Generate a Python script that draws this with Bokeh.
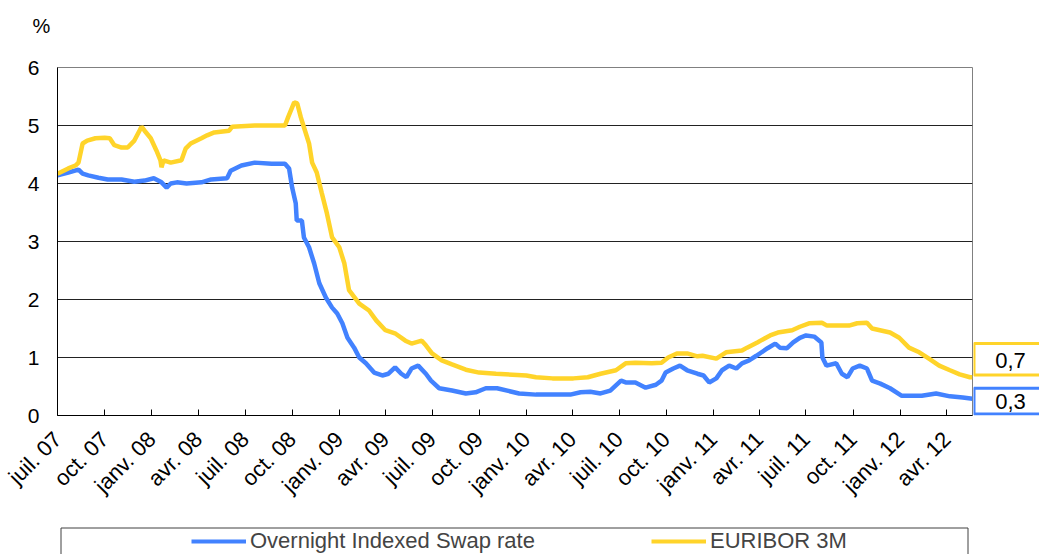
import math
import pandas as pd
from bokeh.plotting import figure
from bokeh.layouts import column, row
from bokeh.models import (FixedTicker, Legend, LegendItem, BoxAnnotation, Label, Range1d)
from bokeh.embed import file_html
from bokeh.resources import INLINE

# ---- data ----
ois_dates = ["2007-07-01", "2007-07-22", "2007-08-11", "2007-08-19", "2007-08-30", "2007-09-19",
             "2007-10-07", "2007-11-03", "2007-11-28", "2007-12-18", "2008-01-05", "2008-01-20",
             "2008-01-30", "2008-02-07", "2008-02-19", "2008-03-09", "2008-04-07", "2008-04-26",
             "2008-05-27", "2008-06-03", "2008-06-24", "2008-07-20", "2008-08-22", "2008-09-17",
             "2008-09-25", "2008-10-01", "2008-10-08", "2008-10-10", "2008-10-20", "2008-10-24",
             "2008-11-03", "2008-11-13", "2008-11-23", "2008-12-06", "2008-12-18", "2008-12-28",
             "2009-01-07", "2009-01-17", "2009-01-30", "2009-02-09", "2009-02-22", "2009-03-10",
             "2009-03-26", "2009-04-07", "2009-04-20", "2009-05-02", "2009-05-12", "2009-05-22",
             "2009-06-04", "2009-06-19", "2009-06-29", "2009-07-15", "2009-08-09", "2009-09-05",
             "2009-09-24", "2009-10-14", "2009-11-05", "2009-12-18", "2010-01-20", "2010-03-28",
             "2010-04-17", "2010-05-06", "2010-05-26", "2010-06-14", "2010-06-25", "2010-07-05",
             "2010-07-14", "2010-08-02", "2010-08-22", "2010-09-11", "2010-09-22", "2010-09-30",
             "2010-10-15", "2010-10-28", "2010-11-11", "2010-12-01", "2010-12-13", "2010-12-24",
             "2011-01-07", "2011-01-18", "2011-02-01", "2011-02-15", "2011-02-26", "2011-03-12",
             "2011-03-26", "2011-04-17", "2011-05-02", "2011-05-11", "2011-05-25", "2011-06-06",
             "2011-06-19", "2011-07-01", "2011-07-17", "2011-07-31", "2011-08-02", "2011-08-10",
             "2011-08-29", "2011-09-09", "2011-09-20", "2011-09-30", "2011-10-14", "2011-10-28",
             "2011-11-07", "2011-11-23", "2011-12-12", "2012-01-04", "2012-02-12", "2012-03-11",
             "2012-04-07", "2012-05-02", "2012-05-21"]
ois_values = [4.14, 4.19, 4.24, 4.17, 4.14, 4.10,
              4.07, 4.07, 4.03, 4.05, 4.09, 4.02,
              3.93, 4.00, 4.02, 4.00, 4.02, 4.07,
              4.09, 4.22, 4.31, 4.36, 4.34, 4.34,
              4.26, 3.93, 3.66, 3.36, 3.36, 3.07,
              2.90, 2.62, 2.28, 2.03, 1.86, 1.76,
              1.59, 1.34, 1.17, 1.00, 0.90, 0.74,
              0.69, 0.72, 0.83, 0.72, 0.66, 0.81,
              0.86, 0.72, 0.60, 0.47, 0.43, 0.38,
              0.40, 0.47, 0.47, 0.38, 0.36, 0.36,
              0.40, 0.41, 0.38, 0.43, 0.52, 0.60,
              0.57, 0.57, 0.48, 0.53, 0.60, 0.74,
              0.81, 0.86, 0.78, 0.72, 0.69, 0.57,
              0.64, 0.78, 0.86, 0.81, 0.90, 0.95,
              1.03, 1.16, 1.24, 1.17, 1.16, 1.26,
              1.34, 1.38, 1.36, 1.26, 1.00, 0.86,
              0.90, 0.72, 0.66, 0.81, 0.86, 0.81,
              0.60, 0.55, 0.47, 0.34, 0.34, 0.38,
              0.33, 0.31, 0.29]

eur_dates = ["2007-07-01", "2007-07-22", "2007-08-05", "2007-08-11", "2007-08-19", "2007-08-28",
             "2007-09-13", "2007-10-01", "2007-10-11", "2007-10-20", "2007-11-03", "2007-11-15",
             "2007-11-28", "2007-12-08", "2007-12-12", "2007-12-18", "2007-12-30", "2008-01-10",
             "2008-01-18", "2008-01-20", "2008-01-24", "2008-02-07", "2008-02-28", "2008-03-07",
             "2008-03-17", "2008-04-07", "2008-04-18", "2008-05-02", "2008-05-31", "2008-06-06",
             "2008-07-20", "2008-09-17", "2008-09-23", "2008-10-05", "2008-10-11", "2008-10-18",
             "2008-10-24", "2008-11-03", "2008-11-09", "2008-11-18", "2008-11-28", "2008-12-08",
             "2008-12-18", "2009-01-01", "2009-01-11", "2009-01-20", "2009-02-09", "2009-02-28",
             "2009-03-14", "2009-04-01", "2009-04-21", "2009-05-10", "2009-05-22", "2009-06-11",
             "2009-06-19", "2009-07-01", "2009-07-20", "2009-08-09", "2009-09-05", "2009-10-01",
             "2009-11-03", "2010-01-01", "2010-01-20", "2010-02-21", "2010-04-03", "2010-05-01",
             "2010-05-26", "2010-06-25", "2010-07-14", "2010-08-02", "2010-09-03", "2010-09-22",
             "2010-10-05", "2010-10-22", "2010-11-11", "2010-12-01", "2010-12-11", "2011-01-07",
             "2011-01-26", "2011-02-26", "2011-03-08", "2011-03-28", "2011-04-22", "2011-05-07",
             "2011-06-04", "2011-06-19", "2011-07-07", "2011-08-01", "2011-08-11", "2011-09-23",
             "2011-10-09", "2011-10-28", "2011-11-07", "2011-12-12", "2011-12-30", "2012-01-18",
             "2012-02-07", "2012-02-26", "2012-03-17", "2012-04-07", "2012-04-26", "2012-05-16",
             "2012-05-21"]
eur_values = [4.17, 4.26, 4.31, 4.36, 4.69, 4.74,
              4.78, 4.79, 4.78, 4.66, 4.62, 4.62,
              4.74, 4.91, 4.98, 4.91, 4.78, 4.57,
              4.40, 4.28, 4.40, 4.36, 4.40, 4.60,
              4.69, 4.78, 4.83, 4.88, 4.91, 4.98,
              5.00, 5.00, 5.14, 5.40, 5.38, 5.14,
              4.97, 4.69, 4.36, 4.19, 3.83, 3.48,
              3.07, 2.90, 2.62, 2.16, 1.93, 1.81,
              1.64, 1.47, 1.41, 1.29, 1.24, 1.29,
              1.21, 1.07, 0.95, 0.88, 0.79, 0.74,
              0.72, 0.69, 0.66, 0.64, 0.64, 0.66,
              0.72, 0.78, 0.90, 0.91, 0.90, 0.91,
              1.00, 1.07, 1.07, 1.02, 1.03, 0.98,
              1.09, 1.12, 1.17, 1.26, 1.38, 1.43,
              1.47, 1.53, 1.59, 1.60, 1.55, 1.55,
              1.59, 1.60, 1.50, 1.43, 1.34, 1.17,
              1.09, 0.98, 0.86, 0.78, 0.71, 0.66,
              0.66]

tick_dates = ["2007-07-01", "2007-10-01", "2008-01-01", "2008-04-01", "2008-07-01", "2008-10-01",
              "2009-01-01", "2009-04-01", "2009-07-01", "2009-10-01", "2010-01-01", "2010-04-01",
              "2010-07-01", "2010-10-01", "2011-01-01", "2011-04-01", "2011-07-01", "2011-10-01",
              "2012-01-01", "2012-04-01"]
tick_labels = ["juil. 07", "oct. 07", "janv. 08", "avr. 08", "juil. 08", "oct. 08",
               "janv. 09", "avr. 09", "juil. 09", "oct. 09", "janv. 10", "avr. 10",
               "juil. 10", "oct. 10", "janv. 11", "avr. 11", "juil. 11", "oct. 11",
               "janv. 12", "avr. 12"]
y_ticks = [0, 1, 2, 3, 4, 5, 6]
series_names = ["Overnight Indexed Swap rate", "EURIBOR 3M"]
last_labels = ["0,3", "0,7"]
unit_label = "%"
x_start, x_end = "2007-07-01", "2012-05-21"
y_min, y_max = 0, 6

# ---- style / layout constants ----
FONT = "Liberation Sans"
BLUE = "#4282FF"
YELLOW = "#FFD42A"
TOTAL_W = 1039
TOP_H = 40
MAIN_W, MAIN_H = 973, 484
B_LEFT, B_RIGHT, B_TOP, B_BOTTOM = 57, 1, 27, 109
SIDE_W = TOTAL_W - MAIN_W
LEG_H = 30


def bare(fig):
    fig.grid.visible = False
    fig.outline_line_color = None
    fig.background_fill_color = "white"
    fig.border_fill_color = "white"
    return fig


# ---- top strip with the unit ----
top = bare(figure(width=TOTAL_W, height=TOP_H, output_backend="svg", toolbar_location=None,
                  x_range=Range1d(0, TOTAL_W), y_range=Range1d(0, TOP_H),
                  min_border_left=0, min_border_right=0, min_border_top=0, min_border_bottom=0,
                  x_axis_location=None, y_axis_location=None))
top.add_layout(Label(x=41, y=15, text=unit_label, text_font=FONT, text_font_size="20px",
                     text_align="center", text_baseline="middle", text_color="black"))

# ---- main chart ----
p = figure(width=MAIN_W, height=MAIN_H, x_axis_type="datetime", output_backend="svg",
           toolbar_location=None,
           x_range=Range1d(pd.Timestamp(x_start), pd.Timestamp(x_end)),
           y_range=Range1d(y_min, y_max),
           min_border_left=B_LEFT, min_border_right=B_RIGHT,
           min_border_top=B_TOP, min_border_bottom=B_BOTTOM)
p.background_fill_color = "white"
p.border_fill_color = "white"
p.outline_line_color = "#808080"
p.outline_line_width = 1

r_ois = p.line(pd.to_datetime(ois_dates), ois_values, line_color=BLUE, line_width=4.5)
r_eur = p.line(pd.to_datetime(eur_dates), eur_values, line_color=YELLOW, line_width=4.5)

tick_ms = [float(pd.Timestamp(d).value // 10**6) for d in tick_dates]
xa = p.xaxis[0]
xa.ticker = FixedTicker(ticks=tick_ms)
xa.major_label_overrides = {t: l for t, l in zip(tick_ms, tick_labels)}
xa.major_label_orientation = math.pi / 4
xa.major_label_text_font = FONT
xa.major_label_text_font_size = "22px"
xa.major_label_text_color = "black"
xa.major_tick_in = 6
xa.major_tick_out = 0
xa.minor_tick_in = 0
xa.minor_tick_out = 0
xa.axis_line_color = "black"
xa.major_tick_line_color = "black"
xa.major_label_standoff = 20

ya = p.yaxis[0]
ya.ticker = FixedTicker(ticks=y_ticks)
ya.major_label_text_font = FONT
ya.major_label_text_font_size = "21px"
ya.major_label_text_color = "black"
ya.major_tick_in = 0
ya.major_tick_out = 0
ya.minor_tick_in = 0
ya.minor_tick_out = 0
ya.axis_line_color = "black"
ya.major_label_standoff = 18

p.xgrid.visible = False
p.ygrid.ticker = FixedTicker(ticks=[1, 2, 3, 4, 5])
p.ygrid.grid_line_color = "#222222"
p.ygrid.grid_line_width = 1

# ---- right side: last-value boxes (frame aligned with the chart, same value scale) ----
side = bare(figure(width=SIDE_W, height=MAIN_H, output_backend="svg", toolbar_location=None,
                   x_range=Range1d(0, SIDE_W), y_range=Range1d(y_min, y_max),
                   min_border_left=0, min_border_right=0, min_border_top=B_TOP,
                   min_border_bottom=B_BOTTOM,
                   x_axis_location=None, y_axis_location=None))
for (btop, bbot, mid, col, lab) in [(1.24, 0.70, 0.95, YELLOW, last_labels[1]),
                                    (0.47, 0.026, 0.24, BLUE, last_labels[0])]:
    side.add_layout(BoxAnnotation(left=0.5, right=SIDE_W + 40, top=btop, bottom=bbot,
                                  fill_color="white", fill_alpha=1,
                                  line_color=col, line_alpha=1, line_width=3))
    side.add_layout(Label(x=37, y=mid, text=lab, text_font=FONT, text_font_size="22px",
                          text_align="center", text_baseline="middle", text_color="black"))

# ---- legend strip ----
leg = bare(figure(width=TOTAL_W, height=LEG_H, output_backend="svg", toolbar_location=None,
                  x_range=Range1d(0, TOTAL_W), y_range=Range1d(0, LEG_H),
                  min_border_left=0, min_border_right=0, min_border_top=0, min_border_bottom=0,
                  x_axis_location=None, y_axis_location=None))
leg.add_layout(BoxAnnotation(left=60.5, right=967.5, top=LEG_H - 3.5, bottom=-20,
                             fill_alpha=0, line_color="#404040", line_alpha=1, line_width=1))
# legend-only renderers: their points lie outside the strip's ranges, so only the legend shows them
l_ois = leg.line(x=[-20, -10], y=[-20, -20], line_color=BLUE, line_width=4)
l_eur = leg.line(x=[-20, -10], y=[-20, -20], line_color=YELLOW, line_width=4)
legend = Legend(items=[LegendItem(label=series_names[0], renderers=[l_ois]),
                       LegendItem(label=series_names[1], renderers=[l_eur])],
                orientation="horizontal", location=(191, 0), padding=0, margin=0,
                spacing=101, label_width=300, glyph_width=55, glyph_height=20,
                label_standoff=4, border_line_alpha=0, background_fill_alpha=0,
                label_text_font=FONT, label_text_font_size="22px")
leg.add_layout(legend)

layout = column(top, row(p, side, spacing=0), leg, spacing=0)
open("out.html", "w").write(file_html(layout, INLINE))
